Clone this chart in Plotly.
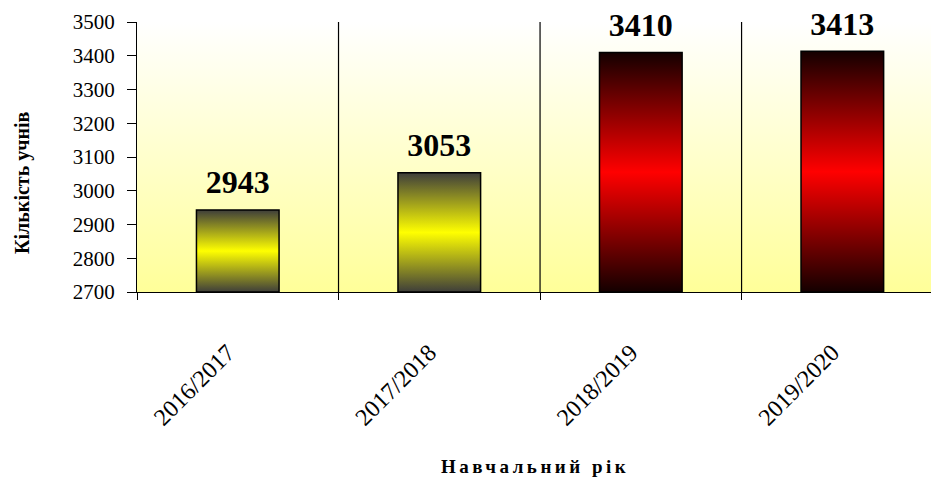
import plotly.graph_objects as go

categories = ["2016/2017", "2017/2018", "2018/2019", "2019/2020"]
values = [2943, 3053, 3410, 3413]
bar_colors_dark = ["#3e3e3a", "#3e3e3a", "#140000", "#140000"]
bar_colors_bright = ["#FFFF00", "#FFFF00", "#FF0000", "#FF0000"]
y_ticks = [2700, 2800, 2900, 3000, 3100, 3200, 3300, 3400, 3500]

Y_MIN, Y_MAX = 2700, 3500
BAR_HALF = 0.205
X_LEFT, X_RIGHT = -0.5, 3.44
LABEL_NUDGE = 0.05
FONT = "Liberation Serif, Times New Roman, Times, serif"

fig = go.Figure()

# plot-area background gradient (pale yellow at bottom to white at top)
n = len(categories)
fig.add_trace(go.Scatter(
    x=[-0.5, n - 0.5, n - 0.5, -0.5, -0.5],
    y=[Y_MIN, Y_MIN, Y_MAX, Y_MAX, Y_MIN],
    mode="lines", fill="toself", line=dict(width=0),
    fillgradient=dict(type="vertical", start=Y_MIN, stop=Y_MAX,
                      colorscale=[[0, "#FFFF99"], [1, "#FFFFFF"]]),
    hoverinfo="skip", showlegend=False,
))

# bars with vertical gradient
for i, (cat, v) in enumerate(zip(categories, values)):
    fig.add_trace(go.Scatter(
        x=[i - BAR_HALF, i + BAR_HALF, i + BAR_HALF, i - BAR_HALF, i - BAR_HALF],
        y=[Y_MIN, Y_MIN, v, v, Y_MIN],
        mode="lines", fill="toself",
        line=dict(color="black", width=1.5),
        fillgradient=dict(type="vertical", start=Y_MIN, stop=v,
                          colorscale=[[0, bar_colors_dark[i]],
                                      [0.5, bar_colors_bright[i]],
                                      [1, bar_colors_dark[i]]]),
        name=cat, hoverinfo="skip", showlegend=False,
    ))

# value labels (invisible marker pushes the text up off the bar top)
fig.add_trace(go.Scatter(
    x=list(range(n)), y=values, mode="markers+text",
    marker=dict(size=12, opacity=0),
    text=[str(v) for v in values], textposition="top center",
    textfont=dict(family=FONT, size=32, color="black", weight="bold"),
    cliponaxis=False, showlegend=False, hoverinfo="skip",
))

# vertical separators at category boundaries
for b in range(n - 1):
    fig.add_shape(type="line", xref="x", yref="y",
                  x0=b + 0.5, x1=b + 0.5, y0=Y_MIN, y1=Y_MAX,
                  line=dict(color="black", width=1.2), layer="above")

fig.update_layout(
    width=931, height=477,
    margin=dict(l=137, r=0, t=22, b=185),
    paper_bgcolor="white", plot_bgcolor="white",
    showlegend=False,
    font=dict(family=FONT, color="black"),
    xaxis=dict(
        range=[X_LEFT, X_RIGHT],
        tickmode="array", tickvals=[i - LABEL_NUDGE for i in range(n)],
        ticktext=categories,
        ticks="", tickangle=-45, ticklabelstandoff=36,
        tickfont=dict(family=FONT, size=24, color="black"),
        showgrid=False, zeroline=False,
        showline=True, linecolor="black", linewidth=1.2,
        minor=dict(tickmode="array", tickvals=[b - 0.5 for b in range(n)],
                   ticks="outside", ticklen=7, tickcolor="black", tickwidth=1.2,
                   showgrid=False),
        automargin=False,
    ),
    yaxis=dict(
        range=[Y_MIN, Y_MAX],
        tickmode="array", tickvals=y_ticks,
        ticks="outside", ticklen=9, tickcolor="black", tickwidth=1.2,
        ticklabelstandoff=8,
        tickfont=dict(family=FONT, size=21, color="black"),
        showgrid=False, zeroline=False,
        showline=True, linecolor="black", linewidth=1.2,
        automargin=False,
    ),
    annotations=[
        dict(text="Кількість учнів", xref="paper", yref="paper",
             x=-115 / 794, y=(292 - 182) / 270, xanchor="center", yanchor="middle",
             textangle=-90, showarrow=False,
             font=dict(family=FONT, size=20, color="black", weight="bold")),
        dict(text='<span style="letter-spacing:3.5px">Навчальний рік</span>',
             xref="paper", yref="paper",
             x=(535 - 137) / 794, y=-(466 - 292) / 270,
             xanchor="center", yanchor="middle", showarrow=False,
             font=dict(family=FONT, size=19, color="black", weight="bold")),
    ],
)

fig.write_html("out.html",
               config={"displayModeBar": False},
               post_script="document.body.style.margin='0';document.body.style.overflow='hidden';")
